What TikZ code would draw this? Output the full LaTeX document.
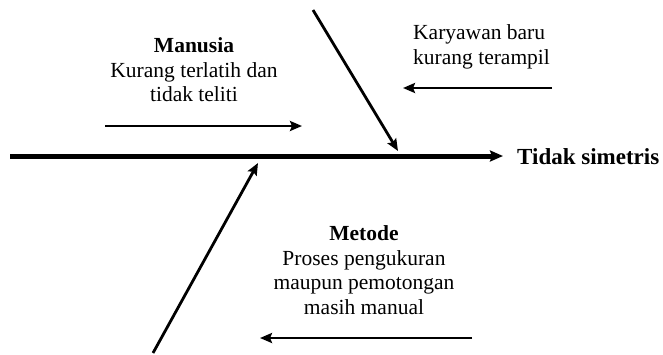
\documentclass[tikz,border=0pt]{standalone}
\usepackage{fontspec}
\setmainfont{Liberation Serif}
\usetikzlibrary{arrows.meta,positioning}
\tikzset{
    % Main spine of the fishbone
    spine/.style={
        -{Stealth[length=13pt,width=11pt,inset=2pt]}, line width=5pt, color=black
    },
    % Diagonal bones
    bone/.style={
        -{Stealth[length=12pt,width=10pt,inset=2pt]}, line width=2.8pt, color=black
    },
    % Small horizontal cause arrows
    subcause/.style={
        -{Stealth[length=12pt,width=10pt,inset=2pt]}, line width=2.8pt, color=black
    },
    % Cause text blocks
    causetext/.style={
        rectangle, draw=none, fill=none, inner sep=0pt,
        font=\fontsize{21.5}{24.5}\selectfont
    },
    % Effect label
    effect/.style={
        rectangle, draw=none, fill=none, inner sep=0pt,
        font=\fontsize{23}{26}\selectfont\bfseries, anchor=west
    }
}

\begin{document}
\begin{tikzpicture}[x=1pt, y=-1pt]

\useasboundingbox (0,0) rectangle (663,354);

% Effect and spine
\node[effect] (result) at (517,157) {Tidak simetris};
\coordinate (tail) at (10,156);
\coordinate (head) at (503,156);
\draw[spine] (tail) -- (head);

% Manusia bone
\coordinate (manusiatop) at (313,10);
\coordinate (manusiahit) at (398,151);
\draw[bone] (manusiatop) -- (manusiahit);
\node[causetext, align=center] (manusia) at (194,70)
    {\textbf{Manusia}\\Kurang terlatih dan\\tidak teliti};
\coordinate (manusiafrom) at (105,126);
\coordinate (manusiato) at (302,126);
\draw[subcause] (manusiafrom) -- (manusiato);

% Karyawan baru
\node[causetext, align=left, anchor=west] (karyawan) at (413,47)
    {Karyawan baru\\kurang terampil};
\coordinate (karyawanfrom) at (552,88);
\coordinate (karyawanto) at (403,88);
\draw[subcause] (karyawanfrom) -- (karyawanto);

% Metode bone
\coordinate (metodebottom) at (153,353);
\coordinate (metodehit) at (258,163);
\draw[bone] (metodebottom) -- (metodehit);
\node[causetext, align=center] (metode) at (364,270)
    {\textbf{Metode}\\Proses pengukuran\\maupun pemotongan\\masih manual};
\coordinate (metodefrom) at (472,338);
\coordinate (metodeto) at (260,338);
\draw[subcause] (metodefrom) -- (metodeto);

\end{tikzpicture}
\end{document}
